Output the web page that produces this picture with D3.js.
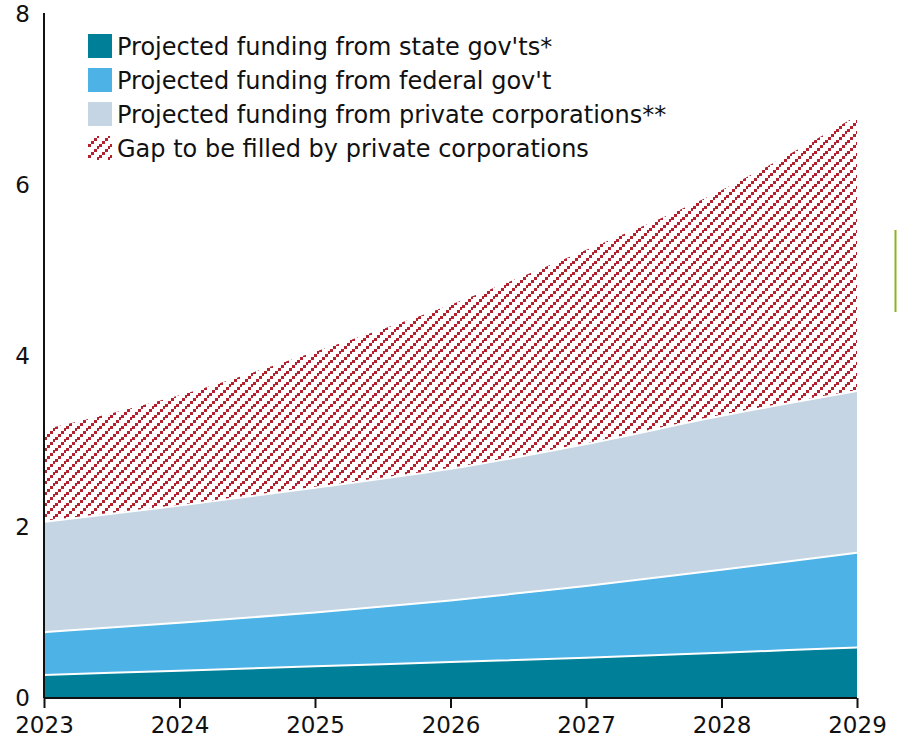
<!DOCTYPE html>
<html>
<head>
<meta charset="utf-8">
<script src="https://cdn.jsdelivr.net/npm/d3@7"></script>
<style>
  html, body { margin: 0; padding: 0; background: #fff; }
  svg { display: block; }
  text { font-family: "DejaVu Sans", sans-serif; fill: #111; }
</style>
</head>
<body>
<svg id="chart" width="897" height="743"></svg>
<script>
// Funding projections (billions), stacked
const years = [2023, 2024, 2025, 2026, 2027, 2028, 2029];
const stateGov = [0.27, 0.32, 0.37, 0.42, 0.47, 0.53, 0.59];
const federalGov = [0.50, 0.56, 0.63, 0.72, 0.84, 0.97, 1.11];
const privateCorp = [1.29, 1.37, 1.46, 1.54, 1.66, 1.80, 1.89];
const gapFill = [1.08, 1.29, 1.59, 1.92, 2.27, 2.64, 3.22];
const yTicks = [0, 2, 4, 6, 8];
const legendLabels = [
  "Projected funding from state gov'ts*",
  "Projected funding from federal gov't",
  "Projected funding from private corporations**",
  "Gap to be filled by private corporations"
];

const colors = ["#007f99", "#4db3e6", "#c5d5e3", "url(#hatch)"];
const keys = ["state", "federal", "private", "gap"];

const svg = d3.select("#chart");
const margin = { top: 14, right: 40, bottom: 45, left: 44 };
const W = 897, H = 743;

const table = years.map((yr, i) => ({
  year: yr, state: stateGov[i], federal: federalGov[i],
  private: privateCorp[i], gap: gapFill[i]
}));

const x = d3.scaleLinear().domain([2023, 2029]).range([margin.left, W - margin.right]);
const y = d3.scaleLinear().domain([0, 8]).range([H - margin.bottom, margin.top]);

// diagonal red hatch: stepped squares rising to the right
const defs = svg.append("defs");
const pat = defs.append("pattern")
  .attr("id", "hatch").attr("patternUnits", "userSpaceOnUse")
  .attr("width", 11).attr("height", 11);
const step = [[0, 8], [3, 5], [6, 2], [9, -1], [9, 10]];
step.forEach(([px, py]) => {
  pat.append("rect").attr("x", px).attr("y", py).attr("width", 3).attr("height", 3)
    .attr("fill", "#b3202e");
});

const stack = d3.stack().keys(keys);
const series = stack(table);

const area = d3.area()
  .x(d => x(d.data.year))
  .y0(d => y(d[0]))
  .y1(d => y(d[1]))
  .curve(d3.curveMonotoneX);

svg.append("g").selectAll("path")
  .data(series)
  .join("path")
  .attr("d", area)
  .attr("fill", (d, i) => colors[i]);

// white separators between solid layers
const topLine = d3.line()
  .x(d => x(d.data.year))
  .y(d => y(d[1]))
  .curve(d3.curveMonotoneX);
svg.append("g").selectAll("path")
  .data(series.slice(0, 3))
  .join("path")
  .attr("d", topLine)
  .attr("fill", "none")
  .attr("stroke", "#fff")
  .attr("stroke-width", 2);

// axes
const xAxis = d3.axisBottom(x).tickValues(years).tickFormat(d3.format("d"))
  .tickSize(10).tickPadding(9);
const gx = svg.append("g")
  .attr("transform", `translate(0,${H - margin.bottom})`)
  .call(xAxis);
gx.select(".domain").attr("stroke", "#111").attr("stroke-width", 2)
  .attr("d", `M${margin.left},0H${W - margin.right}`);
gx.selectAll(".tick line").attr("stroke", "#111").attr("stroke-width", 2);
gx.selectAll(".tick text").attr("font-size", 23).attr("font-family", "DejaVu Sans, sans-serif")
  .attr("fill", "#111");

const yAxis = d3.axisLeft(y).tickValues(yTicks).tickSize(0).tickPadding(14);
const gy = svg.append("g")
  .attr("transform", `translate(${margin.left},0)`)
  .call(yAxis);
gy.select(".domain").attr("stroke", "#111").attr("stroke-width", 2)
  .attr("d", `M0,${margin.top - 1}V${H - margin.bottom}`);
gy.selectAll(".tick text").attr("font-size", 23).attr("font-family", "DejaVu Sans, sans-serif")
  .attr("fill", "#111");

// legend
const legend = svg.append("g").attr("transform", "translate(88,34)");
legendLabels.forEach((label, i) => {
  const row = legend.append("g").attr("transform", `translate(0,${i * 34})`);
  row.append("rect").attr("width", 24).attr("height", 24).attr("fill", colors[i]);
  row.append("text").attr("x", 29).attr("y", 21).attr("font-size", 24).text(label);
});

// small accent bar at right edge
svg.append("line")
  .attr("x1", 895.5).attr("x2", 895.5).attr("y1", 230).attr("y2", 312)
  .attr("stroke", "#8cb21e").attr("stroke-width", 2);
</script>
</body>
</html>
